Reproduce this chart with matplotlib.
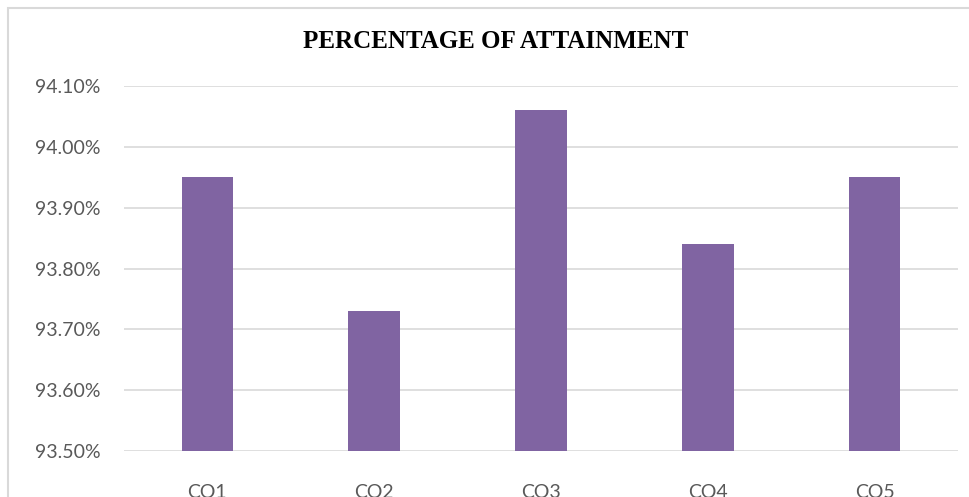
import matplotlib
matplotlib.use("Agg")
import matplotlib.pyplot as plt
from matplotlib.patches import Rectangle
from matplotlib.ticker import FuncFormatter

categories = ["CO1", "CO2", "CO3", "CO4", "CO5"]
attainment = [93.95, 93.73, 94.06, 93.84, 93.95]
y_ticks = [93.50, 93.60, 93.70, 93.80, 93.90, 94.00, 94.10]

W, H = 970, 497
fig = plt.figure(figsize=(W / 100, H / 100), dpi=100)

# light grey chart frame, running off the right and bottom edges
fig.patches.append(Rectangle((8 / W, -0.1), 1.1, 1 - 8 / H + 0.1,
                             transform=fig.transFigure, fill=False,
                             edgecolor="#d9d9d9", lw=1.5))

ax = fig.add_axes([124 / W, 1 - 451 / H, (958 - 124) / W, (451 - 86) / H])
x = range(len(categories))
ax.bar(x, attainment, width=0.31, color="#8064a2", zorder=3)

ax.set_ylim(93.50, 94.10)
ax.set_xlim(-0.5, len(categories) - 0.5)
ax.set_yticks(y_ticks)
ax.yaxis.set_major_formatter(FuncFormatter(lambda v, _: f"{v:.2f}%"))
ax.set_xticks(list(x))
ax.set_xticklabels(categories)
ax.grid(axis="y", color="#d9d9d9", lw=1.2, zorder=0)
for s in ax.spines.values():
    s.set_visible(False)
ax.tick_params(length=0, colors="#595959", labelsize=14)
ax.tick_params(axis="y", pad=17)
ax.tick_params(axis="x", pad=24)
for lab in ax.get_xticklabels() + ax.get_yticklabels():
    lab.set_fontfamily("Lato")

fig.text(496 / W, 1 - 42 / H, "PERCENTAGE OF ATTAINMENT", ha="center", va="center",
         fontsize=18, fontweight="bold", family="Liberation Serif")

fig.savefig("out.png", dpi=100)
